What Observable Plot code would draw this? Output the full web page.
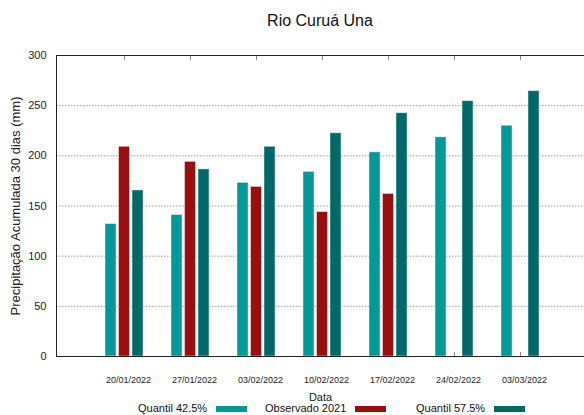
<!DOCTYPE html>
<html><head><meta charset="utf-8">
<script src="https://cdn.jsdelivr.net/npm/d3@7"></script>
<script src="https://cdn.jsdelivr.net/npm/@observablehq/plot@0.6"></script>
<style>
body{margin:0;background:#fff;font-family:"Liberation Sans",Arial,sans-serif;}
#title{height:40px;width:528px;margin-left:56px;text-align:center;font-size:16px;line-height:42px;color:#111;}
#chart{height:361px;}
#legend{position:relative;height:14px;font-size:11px;color:#111;width:584px;}
#legend .it{position:absolute;top:0;white-space:nowrap;line-height:14px;}
#legend .sw{display:inline-block;width:31px;height:6px;margin-left:9px;vertical-align:0px;}
</style></head><body>
<div id="title">Rio Curuá Una</div>
<div id="chart"></div>
<div id="legend"></div>
<script>
const dates = ["20/01/2022","27/01/2022","03/02/2022","10/02/2022","17/02/2022","24/02/2022","03/03/2022"];
const quantil425 = [132,141,173,184,203.5,218.5,230];
const observado2021 = [209,194,169,144,162,null,null];
const quantil575 = [165.5,186.5,209,222.5,242.5,254.5,264.5];
const yTicks = [0,50,100,150,200,250,300];
const gridTicks = [50,100,150,200,250];
const seriesNames = ["Quantil 42.5%","Observado 2021","Quantil 57.5%"];
const seriesColors = ["#009999","#990f0f","#006866"];

const seriesValues = [quantil425, observado2021, quantil575];
const rows = [];
seriesValues.forEach((vals, s) => vals.forEach((v, i) => { if (v != null) rows.push({date: dates[i], series: seriesNames[s], value: v}); }));

const offsets = [-13.5, 0, 13.5];
const barMarks = seriesNames.map((name, s) => Plot.barY(rows.filter(d => d.series === name), {
  x: "date", y: "value", fill: seriesColors[s], dx: offsets[s],
  insetLeft: 27.5, insetRight: 27.5, stroke: "white", strokeOpacity: 0.45, strokeWidth: 1
}));

const chart = Plot.plot({
  width: 584, height: 361,
  marginLeft: 56, marginRight: 0, marginTop: 15, marginBottom: 45,
  style: {fontFamily: "Liberation Sans, Arial, sans-serif", fontSize: "11px", color: "#222", background: "white"},
  x: {type: "band", domain: dates, paddingInner: 0, paddingOuter: 0.5, range: [55.5, 587.5]},
  y: {domain: [0, 300]},
  marks: [
    Plot.gridY(gridTicks, {stroke: "#999", strokeOpacity: 1, strokeDasharray: "1.5,1.5"}),
    Plot.axisX({anchor: "bottom", tickSize: -4, tickFormat: () => "", stroke: "#888", label: null}),
    Plot.axisX({anchor: "top", tickSize: -4, tickFormat: () => "", stroke: "#888", label: null}),
    ...barMarks,
    Plot.ruleY([0, 300], {stroke: "#222"}),
    Plot.frame({anchor: "left", stroke: "#222"}),
    Plot.axisY(yTicks, {tickSize: 0, tickPadding: 10, fontSize: 11, label: null}),
    Plot.axisY({tickSize: 0, tickFormat: () => "", fontSize: 13, label: "Precipitação Acumulada 30 dias (mm)", labelAnchor: "center", labelOffset: 46, labelArrow: "none"}),
    Plot.axisX({anchor: "bottom", tickSize: 0, tickPadding: 20, dx: 4, fontSize: 9, label: null}),
    Plot.axisX({anchor: "bottom", tickSize: 0, tickFormat: () => "", fontSize: 11, label: "Data", labelAnchor: "center", labelOffset: 44, labelArrow: "none"})
  ]
});
document.getElementById("chart").appendChild(chart);

const legend = document.getElementById("legend");
const legendLeft = [138, 265, 416];
seriesNames.forEach((name, s) => {
  const it = document.createElement("span");
  it.className = "it";
  it.style.left = legendLeft[s] + "px";
  it.textContent = name;
  const sw = document.createElement("span");
  sw.className = "sw";
  sw.style.background = seriesColors[s];
  it.appendChild(sw);
  legend.appendChild(it);
});
</script>
</body></html>
